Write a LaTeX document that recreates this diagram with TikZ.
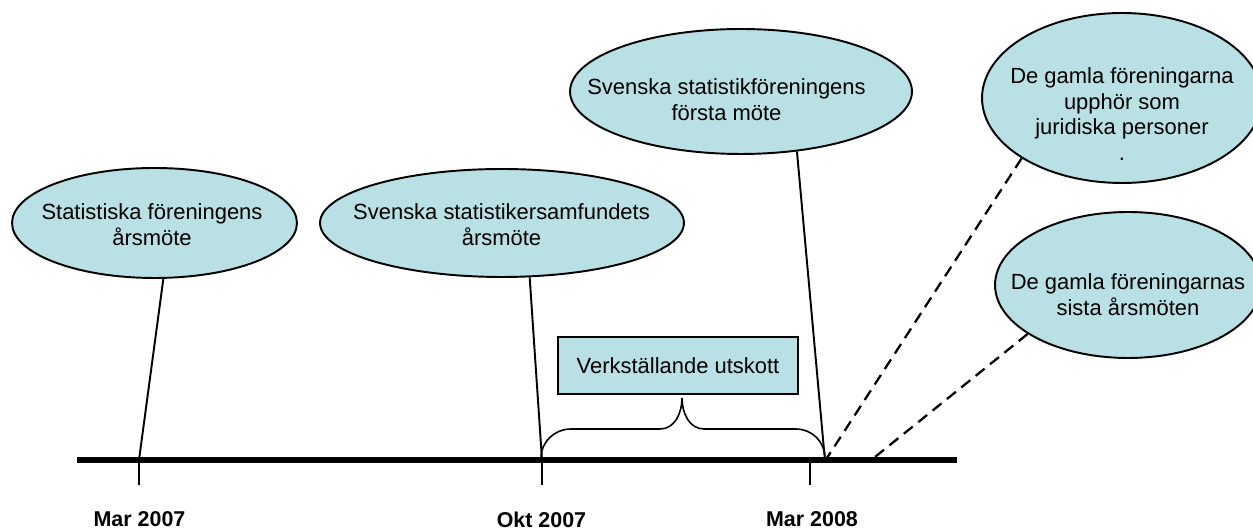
\documentclass[tikz,border=0pt]{standalone}
\usepackage{fontspec}
\setmainfont{Liberation Sans}
\usepackage{tikz}
\usepackage{xcolor}
\usetikzlibrary{shapes.geometric}

\definecolor{aqua}{RGB}{185,224,228}

\begin{document}
\begin{tikzpicture}[x=0.02cm, y=0.02cm]

% Stilar
\tikzstyle{bubble} = [ellipse, draw=black, line width=1.1pt, fill=aqua]
\tikzstyle{txt} = [align=center, inner sep=0pt, font=\fontsize{12.5}{14.5}\selectfont]
\tikzstyle{box} = [rectangle, draw=black, line width=1.1pt, fill=aqua, minimum width=4.8cm, minimum height=1.14cm, inner sep=0pt, font=\fontsize{12.5}{14.5}\selectfont]
\tikzstyle{datum} = [inner sep=0pt, font=\fontsize{12.2}{14}\selectfont\bfseries]
\tikzstyle{link} = [line width=1.1pt]
\tikzstyle{dlink} = [line width=1.3pt, dash pattern=on 6.5pt off 4pt]
\tikzstyle{tick} = [line width=0.9pt]
\tikzstyle{axis} = [line width=2.9pt]

\useasboundingbox (0,0) rectangle (1253,530);

% Tidslinje
\coordinate (a0) at (77,70);
\coordinate (a1) at (957,70);
\coordinate (m1) at (139,70);
\coordinate (m1b) at (139,45);
\coordinate (o1) at (542,70);
\coordinate (o1b) at (542,45);
\coordinate (m2) at (810,70);
\coordinate (m2b) at (810,45);
\coordinate (j) at (825,69);
\coordinate (k) at (870,69);

% Bubblor
\node (e1) [bubble, minimum width=5.7cm, minimum height=2.2cm] at (154.5,307) {};
\node (e2) [bubble, minimum width=7.28cm, minimum height=2.16cm] at (502,307) {};
\node (e3) [bubble, minimum width=6.84cm, minimum height=2.5cm] at (741,438.5) {};
\node (e4) [bubble, minimum width=5.6cm, minimum height=3.4cm] at (1122,432) {};
\node (e5) [bubble, minimum width=5.32cm, minimum height=2.92cm] at (1128,245) {};

\node (t1) [txt] at (152,305.25) {Statistiska föreningens\\årsmöte};
\node (t2) [txt] at (501.5,305.25) {Svenska statistikersamfundets\\årsmöte};
\node (t3) [txt] at (726.5,430.25) {Svenska statistikföreningens\\första möte};
\node (t4) [txt] at (1122,415.75) {De gamla föreningarna\\upphör som\\juridiska personer\\.};
\node (t5) [txt] at (1128,235.25) {De gamla föreningarnas\\sista årsmöten};

\node (vu) [box] at (678,164.5) {Verkställande utskott};

% Datum
\node (l1) [datum] at (139.5,10.5) {Mar 2007};
\node (l2) [datum] at (541.5,10.5) {Okt 2007};
\node (l3) [datum] at (812,10.5) {Mar 2008};

% Linjer
\draw [axis] (a0) -- (a1);
\draw [tick] (m1) -- (m1b);
\draw [tick] (o1) -- (o1b);
\draw [tick] (m2) -- (m2b);
\draw [link] (e1.-81) -- (m1);
\draw [link] (e2.-63) -- (o1);
\draw [link] (e3.-47) -- (j);
\draw [dlink] (e4.211) -- (j);
\draw [dlink] (e5.206) -- (k);

% Klammer
\draw [line width=0.9pt] (541,72) to[out=90,in=180] (571,101) -- (660,101)
  to[out=0,in=-90] (682,132) to[out=-90,in=180] (704,101) -- (796,101)
  to[out=0,in=90] (825,72);
\end{tikzpicture}
\end{document}
